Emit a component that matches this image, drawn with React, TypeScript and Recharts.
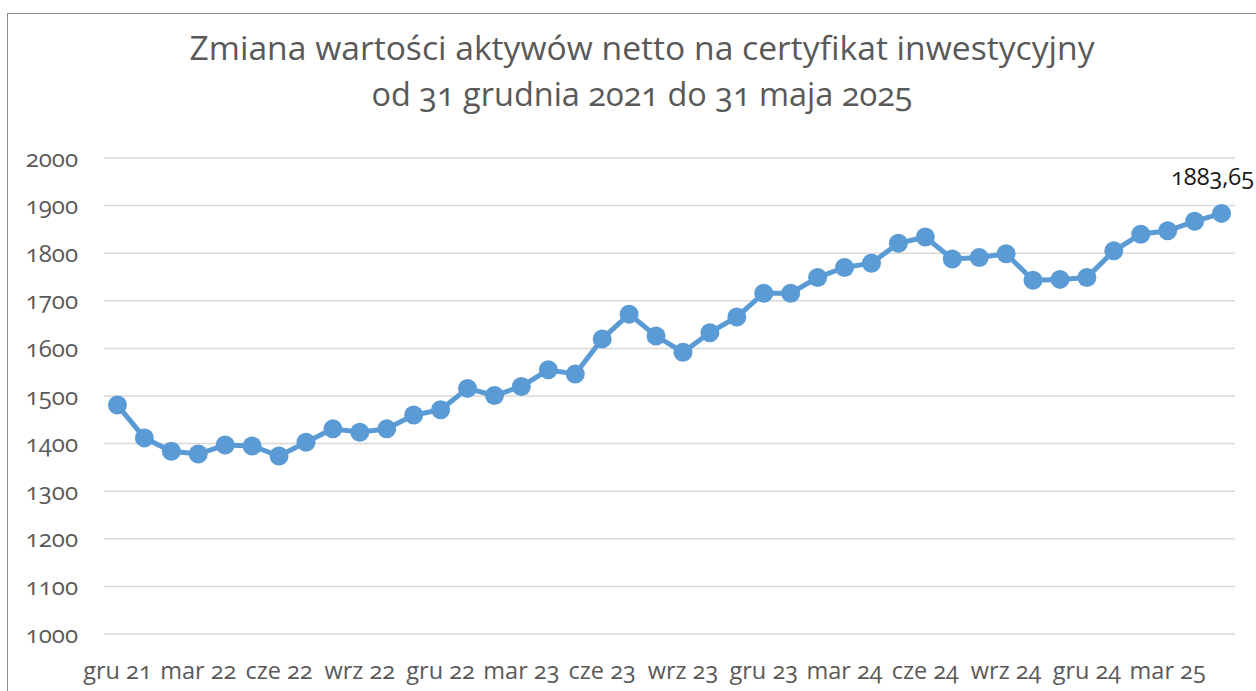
import React from 'react';
import { LineChart, Line, XAxis, YAxis, CartesianGrid } from 'recharts';

const months = [
  'gru 21', 'sty 22', 'lut 22', 'mar 22', 'kwi 22', 'maj 22', 'cze 22', 'lip 22', 'sie 22', 'wrz 22', 'paź 22', 'lis 22',
  'gru 22', 'sty 23', 'lut 23', 'mar 23', 'kwi 23', 'maj 23', 'cze 23', 'lip 23', 'sie 23', 'wrz 23', 'paź 23', 'lis 23',
  'gru 23', 'sty 24', 'lut 24', 'mar 24', 'kwi 24', 'maj 24', 'cze 24', 'lip 24', 'sie 24', 'wrz 24', 'paź 24', 'lis 24',
  'gru 24', 'sty 25', 'lut 25', 'mar 25', 'kwi 25', 'maj 25',
];

const navValues = [
  1481, 1412, 1384, 1378, 1397, 1395, 1374, 1403, 1431, 1424, 1431, 1460,
  1471, 1516, 1501, 1520, 1555, 1546, 1620, 1672, 1626, 1592, 1633, 1666,
  1716, 1716, 1749, 1770, 1779, 1821, 1834, 1788, 1791, 1799, 1743, 1745,
  1749, 1805, 1840, 1847, 1867, 1883.65,
];

const yTicks = [1000, 1100, 1200, 1300, 1400, 1500, 1600, 1700, 1800, 1900, 2000];

const titleLines = [
  'Zmiana wartości aktywów netto na certyfikat inwestycyjny',
  'od 31 grudnia 2021 do 31 maja 2025',
];

const data = months.map((m, i) => ({ month: m, value: navValues[i] }));

const FONT = '"Open Sans", "Noto Sans", sans-serif';
const textStyle: React.CSSProperties = { fontVariantNumeric: 'oldstyle-nums', fontFeatureSettings: '"onum"' };

const lastIndex = navValues.length - 1;

const ValueLabel = (props: any) => {
  const { x, y, index, value } = props;
  if (index !== lastIndex) return null;
  const txt = String(value).replace('.', ',');
  return (
    <text x={x - 9} y={y - 28} textAnchor="middle" fontFamily={FONT} fontSize={23.5} fill="#1a1a1a" style={textStyle}>
      {txt}
    </text>
  );
};

export default function App() {
  return (
    <div style={{ position: 'absolute', left: 0, top: 0, width: 1256, height: 691, overflow: 'hidden', background: '#fff' }}>
      <div style={{ position: 'absolute', left: 7, top: 13, width: 1270, height: 700, border: '1.5px solid #8c8c8c', boxSizing: 'border-box' }} />
      <svg style={{ position: 'absolute', left: 0, top: 0 }} width={1256} height={130}>
        <text x={642} y={60} textAnchor="middle" fontFamily={FONT} fontSize={32} fill="#595959" textLength={905} lengthAdjust="spacingAndGlyphs" style={textStyle}>
          {titleLines[0]}
        </text>
        <text x={642} y={106} textAnchor="middle" fontFamily={FONT} fontSize={32} fill="#595959" textLength={541} lengthAdjust="spacingAndGlyphs" style={textStyle}>
          {titleLines[1]}
        </text>
      </svg>
      <div style={{ position: 'absolute', left: 0, top: 0 }}>
        <LineChart width={1256} height={691} data={data} margin={{ top: 158, right: 21, bottom: 27, left: 24 }}>
          <CartesianGrid vertical={false} stroke="#d9d9d9" strokeWidth={1.5} />
          <XAxis
            dataKey="month"
            scale="band"
            interval={2}
            axisLine={false}
            tickLine={false}
            tickMargin={22}
            height={30}
            tick={{ fill: '#595959', fontSize: 23.5, fontFamily: FONT, style: textStyle }}
          />
          <YAxis
            domain={[1000, 2000]}
            ticks={yTicks}
            width={80}
            axisLine={false}
            tickLine={false}
            tickMargin={20}
            tick={{ fill: '#595959', fontSize: 24, fontFamily: FONT, style: textStyle }}
          />
          <Line
            type="linear"
            dataKey="value"
            stroke="#5B9BD5"
            strokeWidth={5}
            dot={{ r: 9.5, fill: '#5B9BD5', stroke: '#5B9BD5', strokeWidth: 0 }}
            activeDot={false}
            isAnimationActive={false}
            label={ValueLabel}
          />
        </LineChart>
      </div>
    </div>
  );
}
